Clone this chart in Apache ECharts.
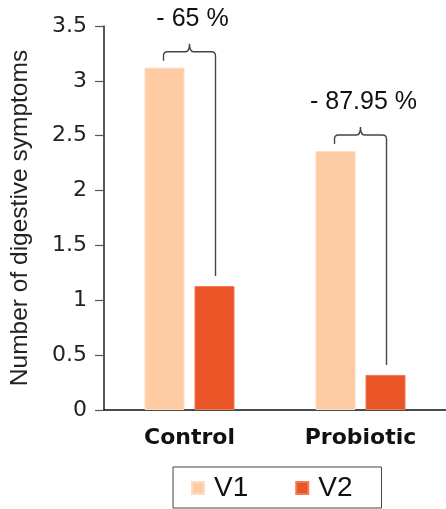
<!DOCTYPE html>
<html>
<head>
<meta charset="utf-8">
<script src="https://cdn.jsdelivr.net/npm/echarts@6/dist/echarts.min.js"></script>
<style>
  html, body { margin: 0; padding: 0; background: #fff; }
  #chart { width: 446px; height: 509px; }
</style>
</head>
<body>
<div id="chart"></div>
<script>
// Groups on the x axis
var categories = ['Control', 'Probiotic'];
// Mean number of digestive symptoms at each visit
var v1Values = [3.12, 2.36];
var v2Values = [1.13, 0.32];
// Reduction from V1 to V2, written above each group
var reductionLabels = ['- 65 %', '- 87.95 %'];
// Y axis ticks
var yMin = 0, yMax = 3.5, yStep = 0.5;

var V1_COLOR = '#FECBA3';
var V2_COLOR = '#E95527';
var BAR_W = 40, BAR_GAP = 10;

var chart = echarts.init(document.getElementById('chart'), null, { renderer: 'canvas' });

// Bracket + label data: [category index, V1 value, V2 value]
var bracketData = categories.map(function (c, i) { return [i, v1Values[i], v2Values[i]]; });

function renderBracket(params, api) {
  var idx = api.value(0);
  var center = api.coord([idx, 0]);
  var off = (BAR_W + BAR_GAP) / 2;
  var x1 = center[0] - off - 1;
  var x2 = center[0] + off + 1;
  var xc = (x1 + x2) / 2;
  var yTop1 = api.coord([idx, api.value(1)])[1];
  var yTop2 = api.coord([idx, api.value(2)])[1];
  var yh = yTop1 - 16;
  var yL = yTop1 - 7;
  var yR = yTop2 - 10;
  var r = 4, pk = 8;
  var d = 'M' + x1 + ' ' + yL +
    ' L' + x1 + ' ' + (yh + r) +
    ' Q' + x1 + ' ' + yh + ' ' + (x1 + r) + ' ' + yh +
    ' L' + (xc - r) + ' ' + yh +
    ' Q' + xc + ' ' + yh + ' ' + xc + ' ' + (yh - pk) +
    ' Q' + xc + ' ' + yh + ' ' + (xc + r) + ' ' + yh +
    ' L' + (x2 - r) + ' ' + yh +
    ' Q' + x2 + ' ' + yh + ' ' + x2 + ' ' + (yh + r) +
    ' L' + x2 + ' ' + yR;
  return {
    type: 'group',
    children: [
      {
        type: 'path',
        shape: { pathData: d },
        style: { fill: null, stroke: '#444', lineWidth: 1.4 }
      },
      {
        type: 'text',
        style: {
          text: reductionLabels[idx],
          x: xc + 3,
          y: yh - pk - 25,
          align: 'center',
          verticalAlign: 'middle',
          font: '25px "Liberation Sans", Arial, sans-serif',
          fill: '#111'
        }
      }
    ]
  };
}

chart.setOption({
  animation: false,
  backgroundColor: '#fff',
  grid: { left: 102, top: 26, bottom: 99, width: 348 },
  legend: {
    data: ['V1', 'V2'],
    left: 173,
    bottom: 1,
    orient: 'horizontal',
    icon: 'rect',
    itemWidth: 12,
    itemHeight: 12,
    itemGap: 47,
    padding: [7, 29, 6, 18],
    borderColor: '#444',
    borderWidth: 1,
    textStyle: {
      fontFamily: '"Liberation Sans", Arial, sans-serif',
      fontSize: 28,
      color: '#111',
      padding: [0, 0, 0, 5]
    }
  },
  xAxis: {
    type: 'category',
    data: categories,
    axisLine: { lineStyle: { color: '#111', width: 1.5 } },
    axisTick: { show: false },
    axisLabel: {
      margin: 17,
      fontFamily: '"DejaVu Sans", sans-serif',
      fontSize: 22,
      fontWeight: 'bold',
      color: '#111'
    }
  },
  yAxis: {
    type: 'value',
    min: yMin,
    max: yMax,
    interval: yStep,
    name: 'Number of digestive symptoms',
    nameLocation: 'middle',
    nameGap: 71,
    nameTextStyle: {
      fontFamily: '"Liberation Sans", Arial, sans-serif',
      fontSize: 24.5,
      color: '#222'
    },
    splitLine: { show: false },
    axisLine: { show: true, lineStyle: { color: '#222', width: 1.5 } },
    axisTick: { show: true, length: 9, lineStyle: { color: '#555', width: 1.2 } },
    axisLabel: {
      margin: 17,
      fontFamily: '"DejaVu Sans", sans-serif',
      fontSize: 22,
      color: '#222'
    }
  },
  series: [
    {
      name: 'V1',
      type: 'bar',
      data: v1Values,
      barWidth: BAR_W,
      barGap: (BAR_GAP / BAR_W * 100) + '%',
      itemStyle: { color: V1_COLOR, borderColor: '#FEDCC2', borderWidth: 1 }
    },
    {
      name: 'V2',
      type: 'bar',
      data: v2Values,
      barWidth: BAR_W,
      itemStyle: { color: V2_COLOR, borderColor: '#F07A55', borderWidth: 1 }
    },
    {
      name: 'brackets',
      type: 'custom',
      data: bracketData,
      encode: { x: 0, y: 1 },
      renderItem: renderBracket,
      silent: true,
      z: 5
    }
  ]
});
</script>
</body>
</html>
